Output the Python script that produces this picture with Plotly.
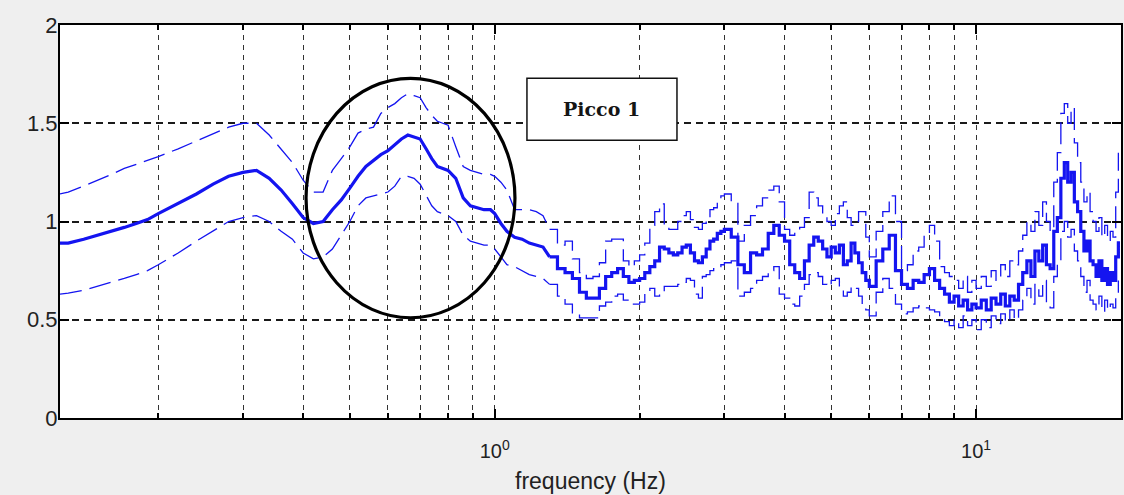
import math
import plotly.graph_objects as go

# ---------------- data ----------------
freq_hz = [
    0.125, 0.13, 0.14, 0.15, 0.16, 0.17, 0.18, 0.19, 0.20,
    0.22, 0.24, 0.26, 0.28, 0.30, 0.32, 0.34, 0.36, 0.38, 0.40,
    0.42, 0.44, 0.46, 0.48, 0.50, 0.52, 0.54, 0.56, 0.58, 0.60,
    0.62, 0.64, 0.66, 0.68, 0.70, 0.72, 0.74, 0.76, 0.78, 0.80,
    0.83, 0.86, 0.89, 0.92, 0.95, 0.98,
    1.00, 1.03, 1.06,
    1.10, 1.14, 1.18, 1.22, 1.26, 1.30,
    1.35, 1.40, 1.45, 1.50, 1.55, 1.60, 1.65, 1.70, 1.75, 1.80,
    1.85, 1.90, 1.95, 2.00, 2.05, 2.10, 2.15, 2.20, 2.25, 2.30,
    2.35, 2.40, 2.45, 2.50, 2.55, 2.60, 2.65, 2.70, 2.75, 2.80,
    2.85, 2.90, 2.95, 3.00,
    3.1, 3.2, 3.3, 3.4, 3.5, 3.6, 3.7, 3.8, 3.9, 4.0,
    4.1, 4.2, 4.3, 4.4, 4.5, 4.6, 4.7, 4.8, 4.9, 5.0,
    5.1, 5.2, 5.3, 5.4, 5.5, 5.6, 5.7, 5.8, 5.9, 6.0,
    6.2, 6.4, 6.6, 6.8, 7.0, 7.2, 7.4, 7.6, 7.8, 8.0,
    8.2, 8.4, 8.6, 8.8, 9.0, 9.2, 9.4, 9.6, 9.8, 10.0,
    10.25, 10.5, 10.75, 11.0, 11.25, 11.5, 11.75, 12.0, 12.25, 12.5,
    12.75, 13.0, 13.25, 13.5, 13.75, 14.0, 14.25, 14.5, 14.75, 15.0,
    15.25, 15.5, 15.75, 16.0, 16.25, 16.5, 16.75, 17.0, 17.25, 17.5,
    17.75, 18.0, 18.25, 18.5, 18.75, 19.0, 19.25, 19.5, 19.75,
]

hv_mean = [
    0.89, 0.89, 0.91, 0.93, 0.95, 0.97, 0.99, 1.01, 1.04,
    1.09, 1.14, 1.19, 1.23, 1.25, 1.26, 1.22, 1.16, 1.09, 1.02,
    0.99, 1.00, 1.06, 1.11, 1.17, 1.23, 1.28, 1.31, 1.34, 1.36,
    1.39, 1.42, 1.44, 1.43, 1.42, 1.37, 1.32, 1.28, 1.27, 1.26,
    1.22, 1.12, 1.08, 1.07, 1.06, 1.06,
    1.04, 0.99, 0.95,
    0.92, 0.91, 0.89, 0.88, 0.87, 0.82,
    0.76, 0.74, 0.71, 0.64, 0.61, 0.61, 0.66, 0.72, 0.74, 0.76,
    0.72, 0.69, 0.70, 0.71, 0.74, 0.77, 0.80, 0.87, 0.86, 0.84,
    0.83, 0.84, 0.87, 0.88, 0.84, 0.80, 0.79, 0.82, 0.86, 0.90,
    0.91, 0.94, 0.95, 0.96,
    0.92, 0.78, 0.74, 0.84, 0.83, 0.86, 0.94, 0.98, 0.93, 0.90,
    0.78, 0.74, 0.71, 0.80, 0.88, 0.92, 0.90, 0.86, 0.82, 0.87,
    0.84, 0.88, 0.78, 0.80, 0.89, 0.84, 0.79, 0.74, 0.70, 0.67,
    0.80, 0.86, 0.93, 0.75, 0.68, 0.66, 0.70, 0.69, 0.73, 0.76,
    0.70, 0.66, 0.63, 0.59, 0.62, 0.57, 0.60, 0.55, 0.58, 0.56,
    0.60, 0.55, 0.61, 0.58, 0.63, 0.57, 0.62, 0.60, 0.68, 0.74,
    0.80, 0.72, 0.85, 0.80, 0.88, 0.78, 0.76, 0.95, 1.02, 1.22,
    1.30, 1.20, 1.25, 1.10, 1.05, 0.95, 0.85, 0.90, 0.80, 0.78,
    0.72, 0.80, 0.70, 0.76, 0.68, 0.74, 0.70, 0.82, 0.90,
]

hv_upper = [
    1.14, 1.15, 1.18, 1.21, 1.24, 1.27, 1.29, 1.31, 1.33,
    1.37, 1.41, 1.45, 1.48, 1.50, 1.50, 1.44, 1.37, 1.30, 1.21,
    1.15, 1.15, 1.26, 1.32, 1.38, 1.45, 1.47, 1.48, 1.55, 1.58,
    1.60, 1.63, 1.65, 1.64, 1.63, 1.58, 1.54, 1.51, 1.50, 1.49,
    1.38, 1.28, 1.26, 1.25, 1.24, 1.24,
    1.23, 1.20, 1.16,
    1.06, 1.06, 1.06, 1.05, 1.03, 0.96,
    0.88, 0.90, 0.81, 0.74, 0.71, 0.72, 0.79, 0.90, 0.91, 0.91,
    0.80, 0.77, 0.80, 0.83, 0.89, 0.98, 1.05, 1.09, 0.98, 0.96,
    0.96, 1.00, 1.03, 1.05, 1.01, 0.97, 0.96, 0.99, 1.02, 1.06,
    1.07, 1.10, 1.13, 1.14,
    1.10, 0.90, 0.98, 1.03, 1.08, 1.12, 1.16, 1.18, 1.10, 0.96,
    0.93, 0.95, 0.97, 1.02, 1.15, 1.12, 1.08, 1.03, 1.00, 0.98,
    1.04, 1.08, 1.10, 1.02, 0.98, 1.00, 1.05, 1.05, 0.92, 0.82,
    0.95, 1.05, 1.13, 1.00, 0.75, 0.78, 0.85, 0.87, 0.93, 0.98,
    0.90, 0.77, 0.74, 0.72, 0.70, 0.66, 0.72, 0.64, 0.70, 0.66,
    0.72, 0.67, 0.75, 0.70, 0.78, 0.72, 0.80, 0.78, 0.85, 0.93,
    1.00, 0.95, 1.05, 0.98, 1.10, 1.00, 0.95, 1.20, 1.35, 1.55,
    1.60, 1.50, 1.58, 1.40, 1.30, 1.20, 1.10, 1.15, 1.05, 1.00,
    0.95, 1.02, 0.92, 0.98, 0.90, 0.95, 0.92, 1.15, 1.35,
]

hv_lower = [
    0.63, 0.635, 0.65, 0.67, 0.69, 0.71, 0.73, 0.75, 0.78,
    0.84, 0.90, 0.95, 1.00, 1.02, 1.03, 1.00, 0.95, 0.91, 0.84,
    0.81, 0.82, 0.86, 0.93, 1.00, 1.08, 1.12, 1.13, 1.14, 1.15,
    1.18, 1.23, 1.23, 1.22, 1.19, 1.13, 1.08, 1.05, 1.04, 1.03,
    1.00, 0.93, 0.90, 0.89, 0.88, 0.88,
    0.86, 0.82, 0.78,
    0.77, 0.75, 0.73, 0.72, 0.71, 0.68,
    0.62, 0.58, 0.53, 0.51, 0.51, 0.51, 0.57, 0.59, 0.62, 0.63,
    0.60, 0.58, 0.58, 0.59, 0.64, 0.66, 0.62, 0.64, 0.67, 0.67,
    0.67, 0.68, 0.69, 0.71, 0.70, 0.63, 0.61, 0.72, 0.73, 0.75,
    0.76, 0.77, 0.78, 0.79,
    0.80, 0.62, 0.64, 0.66, 0.70, 0.72, 0.75, 0.77, 0.63, 0.61,
    0.58, 0.57, 0.62, 0.68, 0.73, 0.74, 0.72, 0.68, 0.67, 0.70,
    0.71, 0.66, 0.62, 0.64, 0.67, 0.66, 0.62, 0.58, 0.55, 0.52,
    0.64, 0.71, 0.66, 0.58, 0.53, 0.54, 0.56, 0.57, 0.56, 0.55,
    0.54, 0.51, 0.49, 0.47, 0.50, 0.46, 0.52, 0.47, 0.50, 0.45,
    0.50, 0.46, 0.52, 0.48, 0.53, 0.49, 0.55, 0.50, 0.55, 0.60,
    0.66, 0.58, 0.68, 0.62, 0.70, 0.58, 0.56, 0.72, 0.80, 0.95,
    1.00, 0.92, 0.96, 0.85, 0.80, 0.72, 0.64, 0.70, 0.60, 0.58,
    0.55, 0.62, 0.54, 0.60, 0.55, 0.58, 0.56, 0.62, 0.70,
]

x_major_ticks = [1, 10]
x_major_labels = ["10<sup>0</sup>", "10<sup>1</sup>"]
x_minor_ticks = [0.2, 0.3, 0.4, 0.5, 0.6, 0.7, 0.8, 0.9,
                 2, 3, 4, 5, 6, 7, 8, 9]
y_ticks = [0, 0.5, 1, 1.5, 2]
y_labels = ["0", "0.5", "1", "1.5", "2"]
x_range_hz = [0.125, 20]
y_range = [0, 2]
annotation_text = "Picco 1"
x_title = "frequency (Hz)"
noisy_from_hz = 1.30   # above this the spectra are drawn as stepped (dense-bin look)

# ---------------- figure ----------------
BLUE = "#1414f0"
split = freq_hz.index(noisy_from_hz)
fig = go.Figure()


def add_curve(values, width, dash):
    # smooth low-frequency part
    fig.add_trace(go.Scatter(x=freq_hz[:split + 1], y=values[:split + 1],
                             mode="lines", line=dict(color=BLUE, width=width, dash=dash),
                             showlegend=False, hoverinfo="skip"))
    # noisy high-frequency part, stepped like the dense FFT bins
    fig.add_trace(go.Scatter(x=freq_hz[split:], y=values[split:],
                             mode="lines", line=dict(color=BLUE, width=width, dash=dash,
                                                     shape="hv"),
                             showlegend=False, hoverinfo="skip"))


add_curve(hv_upper, 1.3, "22px,8px")
add_curve(hv_lower, 1.3, "22px,8px")
add_curve(hv_mean, 3.2, "solid")

# ellipse highlighting the first peak (paper coordinates)
fig.add_shape(type="circle", xref="paper", yref="paper",
              x0=0.2319, x1=0.4288, y0=0.2551, y1=0.8642,
              line=dict(color="black", width=3.2), layer="above")
# label box
fig.add_shape(type="rect", xref="paper", yref="paper",
              x0=0.4401, x1=0.5815, y0=0.7069, y1=0.8642,
              line=dict(color="#111111", width=1.5), fillcolor="white",
              layer="above")
fig.add_annotation(xref="paper", yref="paper", x=0.5108, y=0.7855,
                   xanchor="center", yanchor="middle",
                   text="<b>" + annotation_text + "</b>", showarrow=False,
                   font=dict(family="DejaVu Serif", size=19, color="#151515"))
# x-axis title
fig.add_annotation(xref="paper", yref="paper", x=0.5, y=-0.16,
                   yanchor="middle", xanchor="center",
                   text=x_title, showarrow=False,
                   font=dict(family="Liberation Sans", size=23, color="#222222"))

fig.update_xaxes(
    type="log", automargin=False,
    range=[math.log10(x_range_hz[0]), math.log10(x_range_hz[1])],
    tickmode="array", tickvals=x_major_ticks, ticktext=x_major_labels,
    ticks="inside", ticklen=9, tickcolor="black", tickwidth=1.5,
    showgrid=True, gridcolor="#333333", gridwidth=1, griddash="5px,5px",
    minor=dict(tickmode="array", tickvals=x_minor_ticks, ticks="inside",
               ticklen=5, tickcolor="black", showgrid=True,
               gridcolor="#333333", gridwidth=1, griddash="5px,5px"),
    showline=True, linecolor="black", linewidth=2, mirror="ticks",
    tickfont=dict(family="Liberation Sans", size=20, color="#222222"),
    ticklabelstandoff=14,
    zeroline=False,
)
fig.update_yaxes(
    range=y_range, automargin=False,
    tickmode="array", tickvals=y_ticks, ticktext=y_labels,
    ticks="inside", ticklen=9, tickcolor="black", tickwidth=1.5,
    showgrid=True, gridcolor="#1a1a1a", gridwidth=1.6, griddash="7px,5px",
    showline=True, linecolor="black", linewidth=2, mirror="ticks",
    tickfont=dict(family="Liberation Sans", size=22, color="#222222"),
    ticklabelstandoff=-4,
    zeroline=False,
)
fig.update_layout(
    width=1124, height=495,
    margin=dict(l=60, r=3, t=25, b=77),
    paper_bgcolor="#efefef", plot_bgcolor="white",
)
# remove the browser's default 8px page margin so the figure fills the window
fig.write_html("out.html",
               config={"displayModeBar": False},
               post_script="document.body.style.margin='0';"
                           "document.body.style.background='#efefef';")
